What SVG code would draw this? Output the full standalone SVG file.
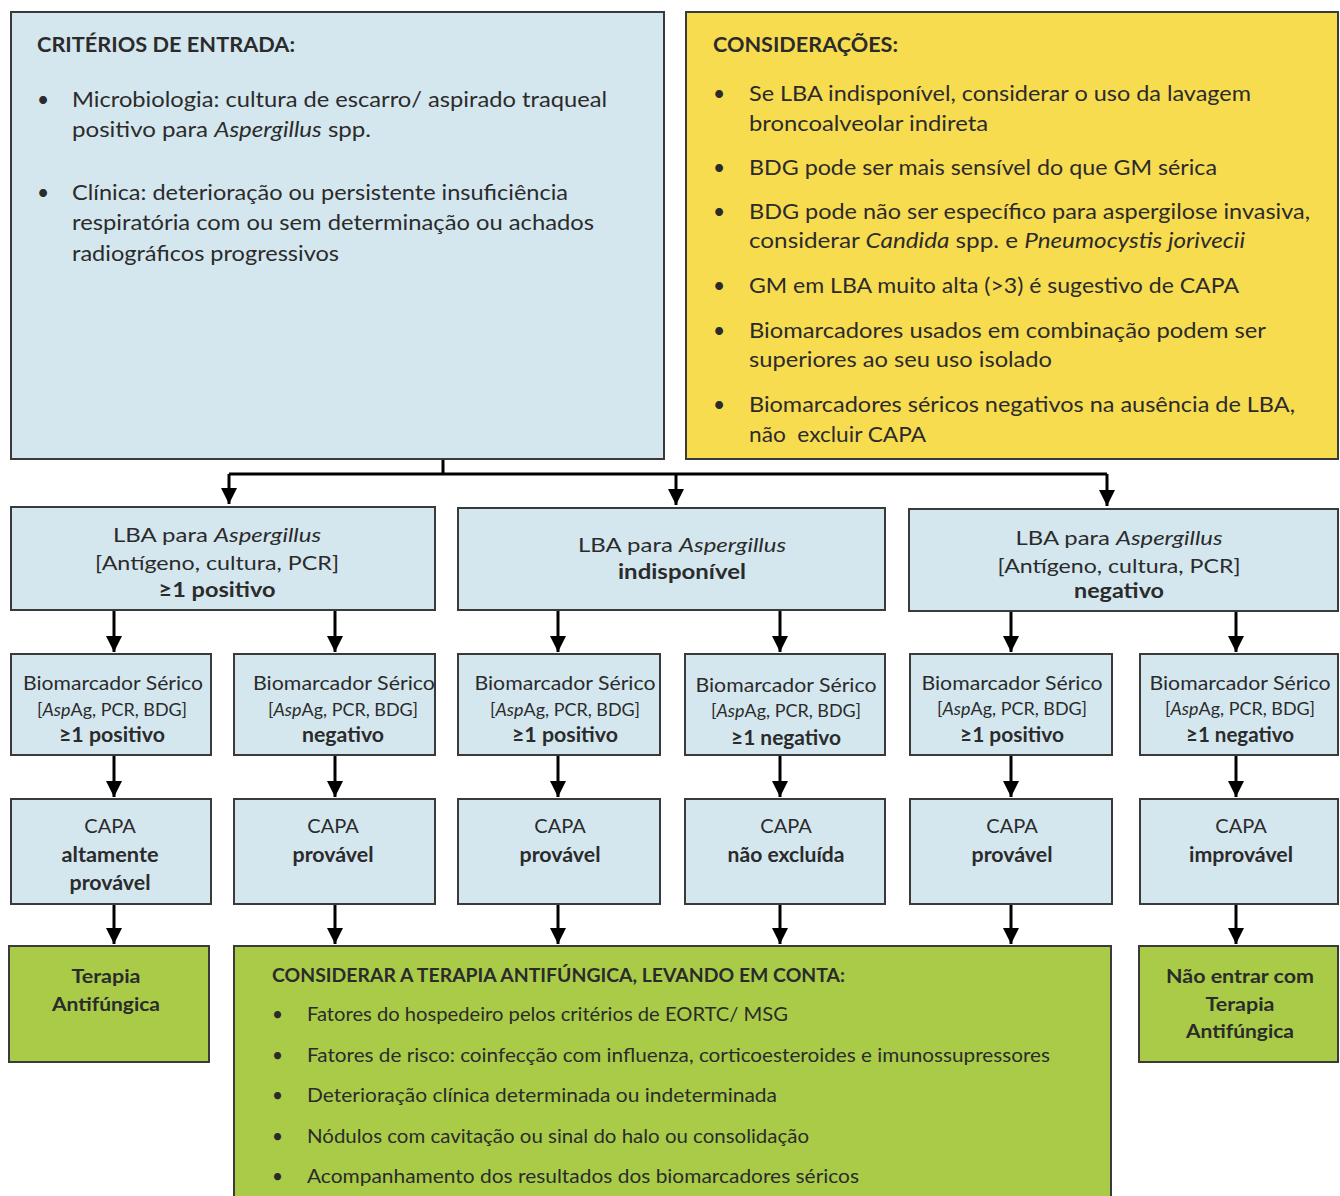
<svg xmlns="http://www.w3.org/2000/svg" width="1340" height="1196" viewBox="0 0 1340 1196">
<defs>
<marker id="ah" markerUnits="userSpaceOnUse" markerWidth="18" markerHeight="16" refX="16" refY="8" orient="auto">
<path d="M0,0 L16,8 L0,16 z" fill="#000"/>
</marker>
<style>
text{font-family:Lato,"Open Sans","Liberation Sans",sans-serif;fill:#2b2b2b}
.blue{fill:#d4e7ef;stroke:#3a3a3a;stroke-width:2}
.yel{fill:#f8dc50;stroke:#3a3a3a;stroke-width:2}
.grn{fill:#a9cb48;stroke:#3a3a3a;stroke-width:2}
.t{font-size:21px}
.b{font-weight:bold}
.i{font-style:italic}
.c{text-anchor:middle}
.m{font-size:20px}
.s{font-size:16.5px}
.g{font-size:19px}
.conn path{fill:none;stroke:#000;stroke-width:3}
</style>
</defs>
<rect width="1340" height="1196" fill="#fff"/>

<g id="criterios">
<rect class="blue" x="11" y="12" width="653" height="447"/>
<text class="t b" x="37" y="52" textLength="258" lengthAdjust="spacingAndGlyphs">CRITÉRIOS DE ENTRADA:</text>
<text class="t" x="37" y="107">•</text>
<text class="t" x="72" y="107" textLength="535" lengthAdjust="spacingAndGlyphs">Microbiologia: cultura de escarro/ aspirado traqueal</text>
<text class="t" x="72" y="137" textLength="299" lengthAdjust="spacingAndGlyphs">positivo para <tspan class="i">Aspergillus</tspan> spp.</text>
<text class="t" x="37" y="200">•</text>
<text class="t" x="72" y="200" textLength="496" lengthAdjust="spacingAndGlyphs">Clínica: deterioração ou persistente insuficiência</text>
<text class="t" x="72" y="230" textLength="522" lengthAdjust="spacingAndGlyphs">respiratória com ou sem determinação ou achados</text>
<text class="t" x="72" y="261" textLength="267" lengthAdjust="spacingAndGlyphs">radiográficos progressivos</text>
</g>

<g id="consideracoes">
<rect class="yel" x="686" y="12" width="652" height="447"/>
<text class="t b" x="713" y="52" textLength="185" lengthAdjust="spacingAndGlyphs">CONSIDERAÇÕES:</text>
<text class="t" x="713" y="101">•</text>
<text class="t" x="749" y="101" textLength="502" lengthAdjust="spacingAndGlyphs">Se LBA indisponível, considerar o uso da lavagem</text>
<text class="t" x="749" y="131" textLength="239" lengthAdjust="spacingAndGlyphs">broncoalveolar indireta</text>
<text class="t" x="713" y="175">•</text>
<text class="t" x="749" y="175" textLength="468" lengthAdjust="spacingAndGlyphs">BDG pode ser mais sensível do que GM sérica</text>
<text class="t" x="713" y="219">•</text>
<text class="t" x="749" y="219" textLength="561" lengthAdjust="spacingAndGlyphs">BDG pode não ser específico para aspergilose invasiva,</text>
<text class="t" x="749" y="248" textLength="496" lengthAdjust="spacingAndGlyphs">considerar <tspan class="i">Candida</tspan> spp. e <tspan class="i">Pneumocystis jorivecii</tspan></text>
<text class="t" x="713" y="293">•</text>
<text class="t" x="749" y="293" textLength="490" lengthAdjust="spacingAndGlyphs">GM em LBA muito alta (&gt;3) é sugestivo de CAPA</text>
<text class="t" x="713" y="338">•</text>
<text class="t" x="749" y="338" textLength="517" lengthAdjust="spacingAndGlyphs">Biomarcadores usados em combinação podem ser</text>
<text class="t" x="749" y="367" textLength="303" lengthAdjust="spacingAndGlyphs">superiores ao seu uso isolado</text>
<text class="t" x="713" y="412">•</text>
<text class="t" x="749" y="412" textLength="546" lengthAdjust="spacingAndGlyphs">Biomarcadores séricos negativos na ausência de LBA,</text>
<text class="t" x="749" y="442" textLength="177" lengthAdjust="spacingAndGlyphs">não&#160; excluir CAPA</text>
</g>

<g id="lba-positivo">
<rect class="blue" x="11" y="507" width="424" height="103"/>
<text class="m c" x="217" y="542" textLength="208" lengthAdjust="spacingAndGlyphs">LBA para <tspan class="i">Aspergillus</tspan></text>
<text class="m c" x="217" y="570" textLength="244" lengthAdjust="spacingAndGlyphs">[Antígeno, cultura, PCR]</text>
<text class="m c b" x="217" y="597" textLength="117" lengthAdjust="spacingAndGlyphs">≥1 positivo</text>
</g>

<g id="lba-indisponivel">
<rect class="blue" x="458" y="508" width="427" height="102"/>
<text class="m c" x="682" y="552" textLength="208" lengthAdjust="spacingAndGlyphs">LBA para <tspan class="i">Aspergillus</tspan></text>
<text class="m c b" x="682" y="579" textLength="128" lengthAdjust="spacingAndGlyphs">indisponível</text>
</g>

<g id="lba-negativo">
<rect class="blue" x="909" y="509" width="429" height="102"/>
<text class="m c" x="1119" y="545" textLength="207" lengthAdjust="spacingAndGlyphs">LBA para <tspan class="i">Aspergillus</tspan></text>
<text class="m c" x="1119" y="573" textLength="243" lengthAdjust="spacingAndGlyphs">[Antígeno, cultura, PCR]</text>
<text class="m c b" x="1119" y="598" textLength="90" lengthAdjust="spacingAndGlyphs">negativo</text>
</g>

<g id="bio1">
<rect class="blue" x="11" y="654" width="200" height="101"/>
<text class="m c" x="113" y="690" textLength="180" lengthAdjust="spacingAndGlyphs">Biomarcador Sérico</text>
<text class="s c" x="112" y="716" textLength="150" lengthAdjust="spacingAndGlyphs">[<tspan class="i">Asp</tspan>Ag, PCR, BDG]</text>
<text class="m c b" x="112" y="742" textLength="106" lengthAdjust="spacingAndGlyphs">≥1 positivo</text>
</g>
<g id="bio2">
<rect class="blue" x="234" y="654" width="201" height="101"/>
<text class="m c" x="344" y="690" textLength="182" lengthAdjust="spacingAndGlyphs">Biomarcador Sérico</text>
<text class="s c" x="343" y="716" textLength="150" lengthAdjust="spacingAndGlyphs">[<tspan class="i">Asp</tspan>Ag, PCR, BDG]</text>
<text class="m c b" x="343" y="742" textLength="82" lengthAdjust="spacingAndGlyphs">negativo</text>
</g>
<g id="bio3">
<rect class="blue" x="458" y="654" width="202" height="101"/>
<text class="m c" x="565" y="690" textLength="181" lengthAdjust="spacingAndGlyphs">Biomarcador Sérico</text>
<text class="s c" x="565" y="716" textLength="150" lengthAdjust="spacingAndGlyphs">[<tspan class="i">Asp</tspan>Ag, PCR, BDG]</text>
<text class="m c b" x="565" y="742" textLength="106" lengthAdjust="spacingAndGlyphs">≥1 positivo</text>
</g>
<g id="bio4">
<rect class="blue" x="685" y="654" width="200" height="101"/>
<text class="m c" x="786" y="692" textLength="181" lengthAdjust="spacingAndGlyphs">Biomarcador Sérico</text>
<text class="s c" x="786" y="717" textLength="150" lengthAdjust="spacingAndGlyphs">[<tspan class="i">Asp</tspan>Ag, PCR, BDG]</text>
<text class="m c b" x="786" y="745" textLength="110" lengthAdjust="spacingAndGlyphs">≥1 negativo</text>
</g>
<g id="bio5">
<rect class="blue" x="910" y="654" width="202" height="101"/>
<text class="m c" x="1012" y="690" textLength="181" lengthAdjust="spacingAndGlyphs">Biomarcador Sérico</text>
<text class="s c" x="1012" y="715" textLength="150" lengthAdjust="spacingAndGlyphs">[<tspan class="i">Asp</tspan>Ag, PCR, BDG]</text>
<text class="m c b" x="1012" y="742" textLength="104" lengthAdjust="spacingAndGlyphs">≥1 positivo</text>
</g>
<g id="bio6">
<rect class="blue" x="1140" y="654" width="198" height="101"/>
<text class="m c" x="1240" y="690" textLength="181" lengthAdjust="spacingAndGlyphs">Biomarcador Sérico</text>
<text class="s c" x="1240" y="715" textLength="150" lengthAdjust="spacingAndGlyphs">[<tspan class="i">Asp</tspan>Ag, PCR, BDG]</text>
<text class="m c b" x="1240" y="742" textLength="108" lengthAdjust="spacingAndGlyphs">≥1 negativo</text>
</g>

<g id="capa1">
<rect class="blue" x="11" y="799" width="200" height="105"/>
<text class="m c" x="110" y="833">CAPA</text>
<text class="m c b" x="110" y="862" textLength="97" lengthAdjust="spacingAndGlyphs">altamente</text>
<text class="m c b" x="110" y="890" textLength="81" lengthAdjust="spacingAndGlyphs">provável</text>
</g>
<g id="capa2">
<rect class="blue" x="234" y="799" width="201" height="105"/>
<text class="m c" x="333" y="833">CAPA</text>
<text class="m c b" x="333" y="862" textLength="81" lengthAdjust="spacingAndGlyphs">provável</text>
</g>
<g id="capa3">
<rect class="blue" x="458" y="799" width="202" height="105"/>
<text class="m c" x="560" y="833">CAPA</text>
<text class="m c b" x="560" y="862" textLength="81" lengthAdjust="spacingAndGlyphs">provável</text>
</g>
<g id="capa4">
<rect class="blue" x="685" y="799" width="200" height="105"/>
<text class="m c" x="786" y="833">CAPA</text>
<text class="m c b" x="786" y="862" textLength="117" lengthAdjust="spacingAndGlyphs">não excluída</text>
</g>
<g id="capa5">
<rect class="blue" x="910" y="799" width="202" height="105"/>
<text class="m c" x="1012" y="833">CAPA</text>
<text class="m c b" x="1012" y="862" textLength="81" lengthAdjust="spacingAndGlyphs">provável</text>
</g>
<g id="capa6">
<rect class="blue" x="1140" y="799" width="198" height="105"/>
<text class="m c" x="1241" y="833">CAPA</text>
<text class="m c b" x="1241" y="862" textLength="104" lengthAdjust="spacingAndGlyphs">improvável</text>
</g>

<g id="terapia">
<rect class="grn" x="9" y="946" width="200" height="116"/>
<text class="g c b" x="106" y="983" textLength="69" lengthAdjust="spacingAndGlyphs">Terapia</text>
<text class="g c b" x="106" y="1011" textLength="108" lengthAdjust="spacingAndGlyphs">Antifúngica</text>
</g>

<g id="considerar-terapia">
<rect class="grn" x="234" y="946" width="877" height="260"/>
<text class="g b" x="272" y="982" textLength="573" lengthAdjust="spacingAndGlyphs">CONSIDERAR A TERAPIA ANTIFÚNGICA, LEVANDO EM CONTA:</text>
<text class="g" x="272" y="1021">•</text>
<text class="g" x="307" y="1021" textLength="481" lengthAdjust="spacingAndGlyphs">Fatores do hospedeiro pelos critérios de EORTC/ MSG</text>
<text class="g" x="272" y="1062">•</text>
<text class="g" x="307" y="1062" textLength="743" lengthAdjust="spacingAndGlyphs">Fatores de risco: coinfecção com influenza, corticoesteroides e imunossupressores</text>
<text class="g" x="272" y="1102">•</text>
<text class="g" x="307" y="1102" textLength="470" lengthAdjust="spacingAndGlyphs">Deterioração clínica determinada ou indeterminada</text>
<text class="g" x="272" y="1143">•</text>
<text class="g" x="307" y="1143" textLength="502" lengthAdjust="spacingAndGlyphs">Nódulos com cavitação ou sinal do halo ou consolidação</text>
<text class="g" x="272" y="1183">•</text>
<text class="g" x="307" y="1183" textLength="552" lengthAdjust="spacingAndGlyphs">Acompanhamento dos resultados dos biomarcadores séricos</text>
</g>

<g id="nao-entrar">
<rect class="grn" x="1139" y="946" width="199" height="116"/>
<text class="g c b" x="1240" y="983" textLength="148" lengthAdjust="spacingAndGlyphs">Não entrar com</text>
<text class="g c b" x="1240" y="1011" textLength="69" lengthAdjust="spacingAndGlyphs">Terapia</text>
<text class="g c b" x="1240" y="1038" textLength="108" lengthAdjust="spacingAndGlyphs">Antifúngica</text>
</g>

<g id="connectors" class="conn">
<path d="M443,460 V474 M229,474 H1107"/>
<path d="M229,474 V504" marker-end="url(#ah)"/>
<path d="M676,474 V505" marker-end="url(#ah)"/>
<path d="M1107,474 V506" marker-end="url(#ah)"/>
<path d="M114,611 V652" marker-end="url(#ah)"/>
<path d="M335,611 V652" marker-end="url(#ah)"/>
<path d="M558,611 V652" marker-end="url(#ah)"/>
<path d="M780,611 V652" marker-end="url(#ah)"/>
<path d="M1011,612 V652" marker-end="url(#ah)"/>
<path d="M1236,612 V652" marker-end="url(#ah)"/>
<path d="M114,756 V797" marker-end="url(#ah)"/>
<path d="M335,756 V797" marker-end="url(#ah)"/>
<path d="M558,756 V797" marker-end="url(#ah)"/>
<path d="M780,756 V797" marker-end="url(#ah)"/>
<path d="M1011,756 V797" marker-end="url(#ah)"/>
<path d="M1236,756 V797" marker-end="url(#ah)"/>
<path d="M114,905 V944" marker-end="url(#ah)"/>
<path d="M335,905 V944" marker-end="url(#ah)"/>
<path d="M558,905 V944" marker-end="url(#ah)"/>
<path d="M780,905 V944" marker-end="url(#ah)"/>
<path d="M1011,905 V944" marker-end="url(#ah)"/>
<path d="M1236,905 V944" marker-end="url(#ah)"/>
</g>
</svg>
